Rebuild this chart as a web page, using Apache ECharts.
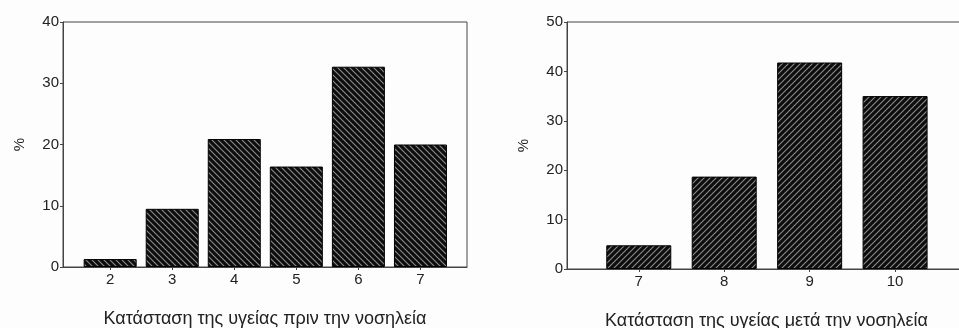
<!DOCTYPE html>
<html>
<head>
<meta charset="utf-8">
<script src="https://cdn.jsdelivr.net/npm/echarts@6/dist/echarts.min.js"></script>
<style>
html,body{margin:0;padding:0;background:#fcfdfc;}
#c{width:959px;height:328px;}
</style>
</head>
<body>
<div id="c"></div>
<script>
// Left chart: health status before hospitalisation
const beforeCategories = [2, 3, 4, 5, 6, 7];
const beforeValues = [1.3, 9.5, 20.9, 16.4, 32.7, 20.0];
const beforeYTicks = [0, 10, 20, 30, 40];
const beforeTitle = 'Κατάσταση της υγείας πριν την νοσηλεία';

// Right chart: health status after hospitalisation
const afterCategories = [7, 8, 9, 10];
const afterValues = [4.8, 18.7, 41.8, 35.0];
const afterYTicks = [0, 10, 20, 30, 40, 50];
const afterTitle = 'Κατάσταση της υγείας μετά την νοσηλεία';

const yLabel = '%';

function hatch(dir) {
  const s = 6;
  const cv = document.createElement('canvas');
  cv.width = s; cv.height = s;
  const g = cv.getContext('2d');
  g.fillStyle = '#0d0d0d';
  g.fillRect(0, 0, s, s);
  g.strokeStyle = '#8c8c8c';
  g.lineWidth = 1.1;
  g.beginPath();
  if (dir === 'back') {
    g.moveTo(-1, -1); g.lineTo(s + 1, s + 1);
    g.moveTo(-1, s - 1); g.lineTo(1, s + 1);
    g.moveTo(s - 1, -1); g.lineTo(s + 1, 1);
  } else {
    g.moveTo(-1, s + 1); g.lineTo(s + 1, -1);
    g.moveTo(-1, 1); g.lineTo(1, -1);
    g.moveTo(s - 1, s + 1); g.lineTo(s + 1, s - 1);
  }
  g.stroke();
  return cv;
}

const font = 'Liberation Sans, Arial, sans-serif';
const txt = '#222';
const axisCol = '#444';

function xAxisCfg(idx, cats, min, max, name) {
  return {
    gridIndex: idx, type: 'value', min: min, max: max,
    splitLine: {show: false},
    axisLine: {show: true, onZero: false, lineStyle: {color: axisCol, width: 1}},
    axisTick: {show: true, length: 3, customValues: cats, lineStyle: {color: axisCol}},
    axisLabel: {show: true, customValues: cats, margin: 5, color: txt, fontSize: 15, fontFamily: font},
    name: name, nameLocation: 'middle', nameGap: 43,
    nameTextStyle: {color: txt, fontSize: 18, fontFamily: font}
  };
}
function yAxisCfg(idx, ticks) {
  return {
    gridIndex: idx, type: 'value', min: ticks[0], max: ticks[ticks.length - 1], interval: ticks[1] - ticks[0],
    splitLine: {show: false},
    axisLine: {show: true, lineStyle: {color: axisCol, width: 1}},
    axisTick: {show: true, length: 3, lineStyle: {color: axisCol}},
    axisLabel: {margin: 4, color: txt, fontSize: 15, fontFamily: font},
    name: yLabel, nameLocation: 'middle', nameGap: 36,
    nameTextStyle: {color: txt, fontSize: 15, fontFamily: font}
  };
}

const chart = echarts.init(document.getElementById('c'), null, {renderer: 'canvas'});
chart.setOption({
  backgroundColor: '#fcfdfc',
  animation: false,
  grid: [
    {left: 63, top: 22, width: 404, height: 245, outerBoundsMode: 'none', containLabel: false, show: true, borderColor: axisCol, borderWidth: 1, backgroundColor: 'transparent'},
    {left: 567, top: 22, width: 399, height: 247, outerBoundsMode: 'none', containLabel: false, show: true, borderColor: axisCol, borderWidth: 1, backgroundColor: 'transparent'}
  ],
  xAxis: [
    xAxisCfg(0, beforeCategories, 1.24, 7.75, beforeTitle),
    xAxisCfg(1, afterCategories, 6.16, 10.83, afterTitle)
  ],
  yAxis: [yAxisCfg(0, beforeYTicks), yAxisCfg(1, afterYTicks)],
  series: [
    {
      type: 'bar', xAxisIndex: 0, yAxisIndex: 0, barWidth: 53,
      data: beforeCategories.map((c, i) => [c, beforeValues[i]]),
      itemStyle: {color: {image: hatch('back'), repeat: 'repeat'}, borderColor: '#000', borderWidth: 1}
    },
    {
      type: 'bar', xAxisIndex: 1, yAxisIndex: 1, barWidth: 65,
      data: afterCategories.map((c, i) => [c, afterValues[i]]),
      itemStyle: {color: {image: hatch('fwd'), repeat: 'repeat'}, borderColor: '#000', borderWidth: 1}
    }
  ]
});
</script>
</body>
</html>
